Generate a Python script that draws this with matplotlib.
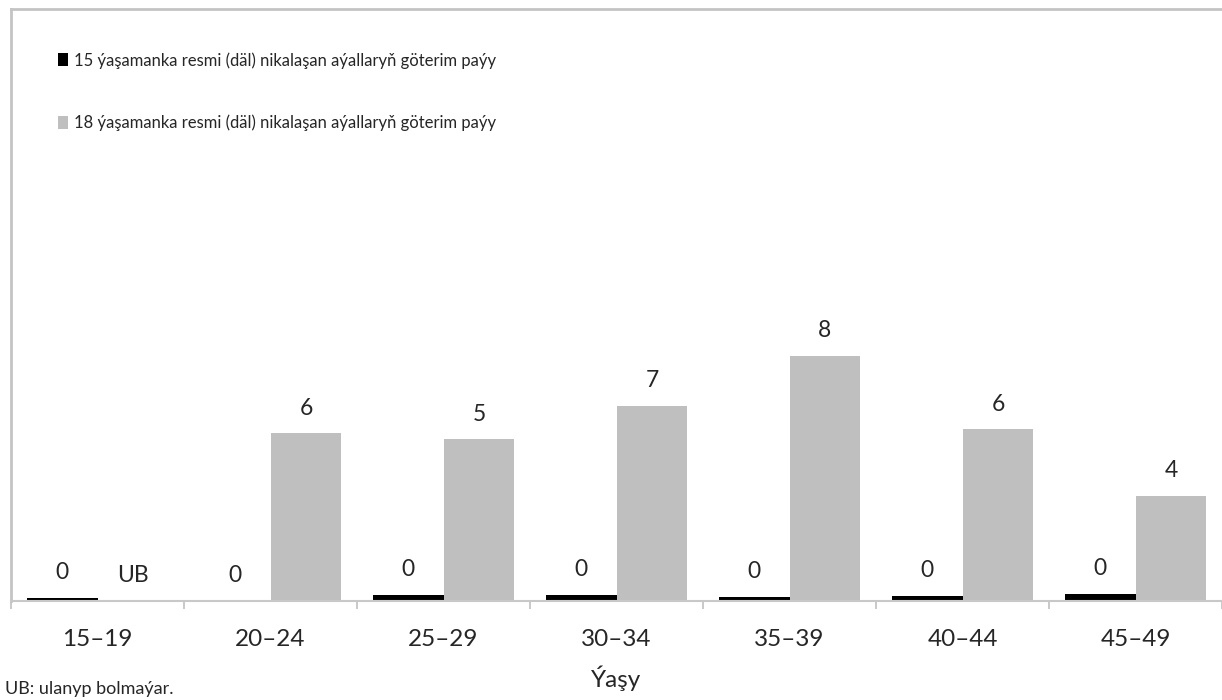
import matplotlib
matplotlib.use("Agg")
import matplotlib.pyplot as plt
import numpy as np

categories = ["15–19", "20–24", "25–29", "30–34", "35–39", "40–44", "45–49"]
married_by_15 = [0.1, 0.0, 0.2, 0.2, 0.15, 0.17, 0.25]
married_by_18 = [None, 5.67, 5.46, 6.60, 8.29, 5.80, 3.56]
series_names = ["15 ýaşamanka resmi (däl) nikalaşan aýallaryň göterim paýy",
                "18 ýaşamanka resmi (däl) nikalaşan aýallaryň göterim paýy"]
missing_label = "UB"
x_label = "Ýaşy"
footnote = "UB: ulanyp bolmaýar."

plt.rcParams['font.family'] = ['Lato', 'DejaVu Sans']
text_color = '#262626'

fig = plt.figure(figsize=(12.22, 7.0), dpi=100)
W, H = 1222, 700
ax = fig.add_axes([11 / W, 99 / H, 1211 / W, 592 / H])

x = np.arange(len(categories))
w = 0.41
v18 = [np.nan if v is None else v for v in married_by_18]
b1 = ax.bar(x - w / 2, married_by_15, width=w, color='#000000', label=series_names[0])
b2 = ax.bar(x + w / 2, v18, width=w, color='#bfbfbf', label=series_names[1])

lab_fs = 16.5
for xi, v in zip(x, married_by_15):
    ax.annotate(f"{v:.0f}", (xi - w / 2, v), xytext=(0, 10.5), textcoords='offset points',
                ha='center', va='bottom', fontsize=lab_fs, color=text_color)
for xi, v in zip(x, married_by_18):
    lab = missing_label if v is None else f"{v:.0f}"
    yv = 0 if v is None else v
    ax.annotate(lab, (xi + w / 2, yv), xytext=(0, 10.5), textcoords='offset points',
                ha='center', va='bottom', fontsize=lab_fs, color=text_color)

ax.set_xlim(-0.5, -0.5 + 1211 / 175)
ax.set_ylim(0, 20)
ax.set_yticks([])
ax.set_xticks(x)
ax.set_xticklabels(categories, fontsize=17.5, color=text_color)
ax.set_xticks(np.arange(-0.5, len(categories), 1.0), minor=True)
ax.tick_params(axis='x', which='major', length=0, pad=20)
ax.tick_params(axis='x', which='minor', length=6, width=1.2, color='#c0c0c0')
ax.set_xlabel(x_label, fontsize=17.5, color=text_color, labelpad=11)

ax.spines['right'].set_visible(False)
for s in ['left', 'top']:
    ax.spines[s].set_color('#c4c4c4')
    ax.spines[s].set_linewidth(2)
ax.spines['bottom'].set_color('#c8c8c8')
ax.spines['bottom'].set_linewidth(1.5)

leg = ax.legend(handles=[b1, b2], loc='upper left', bbox_to_anchor=(58 / W, 1 - 52 / H),
                bbox_transform=fig.transFigure, frameon=False, fontsize=12,
                labelspacing=2.75, handlelength=0.6, handleheight=0.8, handletextpad=0.35,
                borderpad=0, borderaxespad=0)
for t in leg.get_texts():
    t.set_color(text_color)

fig.text(5 / W, 1 - 689 / H, footnote, fontsize=13, color=text_color, ha='left', va='center')

fig.savefig("out.png", dpi=100)
